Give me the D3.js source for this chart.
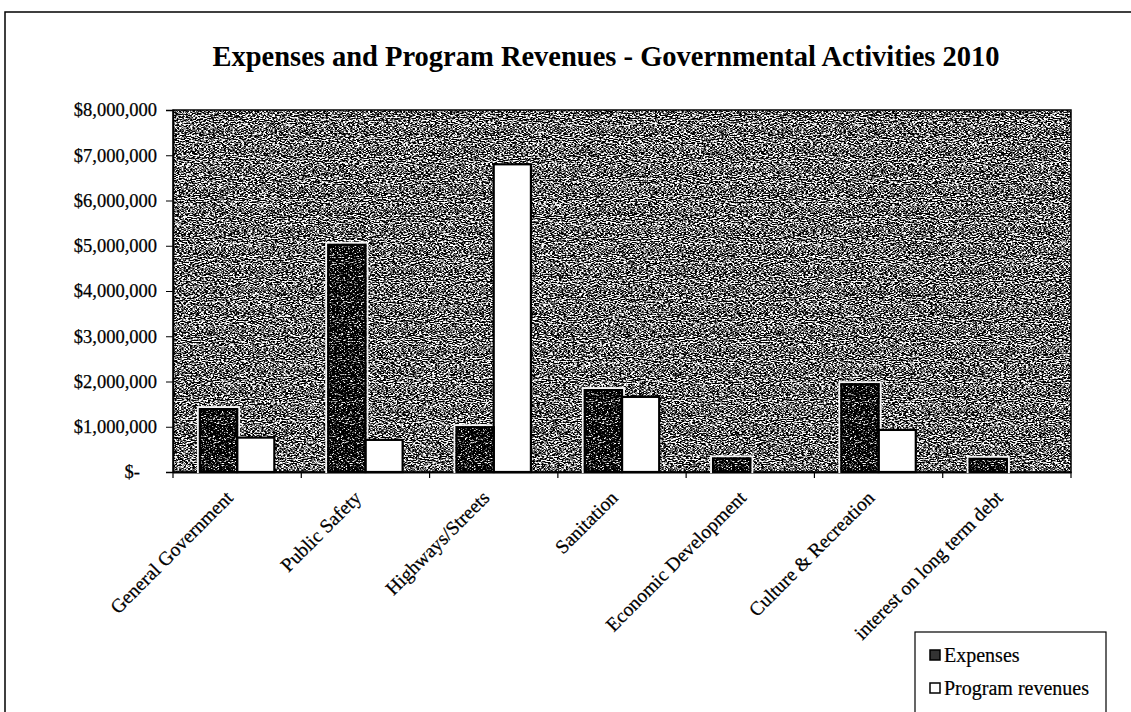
<!DOCTYPE html>
<html>
<head>
<meta charset="utf-8">
<title>Expenses and Program Revenues</title>
<script src="https://cdn.jsdelivr.net/npm/d3@7"></script>
<style>
    body { margin: 0; background: #fff; }
    text { font-family: "Liberation Serif", "Times New Roman", serif; fill: #000; }
    .chart-title { font-size: 28.5px; font-weight: bold; }
    .y-axis text { font-size: 18.5px; stroke: #000; stroke-width: 0.25px; }
    .x-axis text { font-size: 19.5px; stroke: #000; stroke-width: 0.25px; }
    .legend text { font-size: 20px; stroke: #000; stroke-width: 0.2px; }
</style>
</head>
<body>
<div id="chart-area"></div>
<script>

// Data
const categories = ["General Government", "Public Safety", "Highways/Streets", "Sanitation",
    "Economic Development", "Culture & Recreation", "interest on long term debt"];
const expenses = [1390000, 5020000, 990000, 1810000, 300000, 1940000, 290000];
const revenues = [760000, 710000, 6800000, 1660000, 0, 930000, 0];
const seriesNames = ["Expenses", "Program revenues"];
const yTickValues = [0, 1000000, 2000000, 3000000, 4000000, 5000000, 6000000, 7000000, 8000000];
const chartTitle = "Expenses and Program Revenues - Governmental Activities 2010";


class GroupedBarChart {

    constructor(parentElement, config) {
        this.parentElement = parentElement;
        this.config = config;
        this.initVis();
    }

    initVis() {
        let vis = this;

        vis.margin = {top: 110, right: 60, bottom: 240, left: 173};
        vis.width = 1131 - vis.margin.left - vis.margin.right;
        vis.height = 712 - vis.margin.top - vis.margin.bottom;

        vis.root = d3.select("#" + vis.parentElement)
            .append("svg")
            .attr("width", 1131)
            .attr("height", 712);

        // grainy scan texture (dithered grey of the printed chart)
        let defs = vis.root.append("defs");
        vis.addGrain(defs, "grain-bg", 5, -2.1);
        vis.addGrain(defs, "grain-dark", 5, -2.65);

        // outer chart frame (runs off the right and bottom of the page)
        vis.root.append("rect")
            .attr("x", 5).attr("y", 12)
            .attr("width", 1200).attr("height", 800)
            .attr("fill", "none")
            .attr("stroke", "#000")
            .attr("stroke-width", 1.5);

        vis.root.append("text")
            .attr("class", "chart-title")
            .attr("x", 606)
            .attr("y", 66)
            .attr("text-anchor", "middle")
            .text(vis.config.title);

        vis.svg = vis.root.append("g")
            .attr("transform", "translate(" + vis.margin.left + "," + vis.margin.top + ")");

        // plot area
        vis.svg.append("rect")
            .attr("width", vis.width)
            .attr("height", vis.height)
            .attr("fill", "#555")
            .attr("filter", "url(#grain-bg)");
        vis.svg.append("rect")
            .attr("width", vis.width)
            .attr("height", vis.height)
            .attr("fill", "none")
            .attr("stroke", "#000")
            .attr("stroke-width", 1.5);

        // scales
        vis.x0 = d3.scaleBand()
            .range([0, vis.width])
            .paddingInner(0.42)
            .paddingOuter(0.21);

        vis.x1 = d3.scaleBand()
            .padding(0);

        vis.y = d3.scaleLinear()
            .range([vis.height, 0]);

        vis.yAxis = d3.axisLeft(vis.y)
            .tickValues(yTickValues)
            .tickSize(7)
            .tickPadding(9)
            .tickFormat(d => d === 0 ? "$-" : d3.format("$,")(d));

        vis.xAxis = d3.axisBottom(vis.x0)
            .tickSize(0);

        vis.svg.append("g").attr("class", "y-axis axis");
        vis.svg.append("g").attr("class", "x-axis axis")
            .attr("transform", "translate(0," + vis.height + ")");

        vis.wrangleData();
    }

    addGrain(defs, id, k, offset) {
        let f = defs.append("filter")
            .attr("id", id)
            .attr("x", 0).attr("y", 0)
            .attr("width", 1).attr("height", 1)
            .attr("color-interpolation-filters", "sRGB");
        f.append("feTurbulence")
            .attr("type", "fractalNoise")
            .attr("baseFrequency", "0.45 0.95")
            .attr("numOctaves", 2)
            .attr("seed", 7)
            .attr("result", "noise");
        f.append("feColorMatrix")
            .attr("in", "noise")
            .attr("type", "matrix")
            .attr("values", [k, 0, 0, 0, offset, k, 0, 0, 0, offset, k, 0, 0, 0, offset, 0, 0, 0, 0, 1].join(" "))
            .attr("result", "gray");
        f.append("feComposite")
            .attr("in", "gray")
            .attr("in2", "SourceGraphic")
            .attr("operator", "in");
    }

    wrangleData() {
        let vis = this;

        vis.displayData = categories.map((c, i) => ({
            key: c,
            values: [
                {series: seriesNames[0], value: expenses[i]},
                {series: seriesNames[1], value: revenues[i]}
            ]
        }));

        vis.updateVis();
    }

    updateVis() {
        let vis = this;

        vis.x0.domain(categories);
        vis.x1.domain(seriesNames).range([0, vis.x0.bandwidth()]);
        vis.y.domain([0, 8000000]);

        let groups = vis.svg.selectAll(".cat")
            .data(vis.displayData)
            .enter().append("g")
            .attr("class", "cat")
            .attr("transform", d => "translate(" + vis.x0(d.key) + ",0)");

        let bars = groups.selectAll(".bar")
            .data(d => d.values.filter(v => v.value > 0))
            .enter();

        // white halo round the dark bars
        bars.filter(d => d.series === seriesNames[0]).append("rect")
            .attr("x", d => vis.x1(d.series) - 2)
            .attr("y", d => vis.y(d.value) - 2)
            .attr("width", vis.x1.bandwidth() + 4)
            .attr("height", d => vis.height - vis.y(d.value) + 2)
            .attr("fill", "none")
            .attr("stroke", "#f4f4f4")
            .attr("stroke-width", 2);

        bars.append("rect")
            .attr("class", "bar")
            .attr("x", d => vis.x1(d.series))
            .attr("y", d => vis.y(d.value))
            .attr("width", vis.x1.bandwidth())
            .attr("height", d => vis.height - vis.y(d.value))
            .attr("fill", d => d.series === seriesNames[0] ? "#222" : "#fff")
            .attr("filter", d => d.series === seriesNames[0] ? "url(#grain-dark)" : null);

        bars.append("rect")
            .attr("x", d => vis.x1(d.series))
            .attr("y", d => vis.y(d.value))
            .attr("width", vis.x1.bandwidth())
            .attr("height", d => vis.height - vis.y(d.value))
            .attr("fill", "none")
            .attr("stroke", "#000")
            .attr("stroke-width", 2.2);

        // axes
        vis.svg.select(".y-axis").call(vis.yAxis);
        vis.svg.select(".y-axis .domain").attr("stroke-width", 1.5);
        vis.svg.selectAll(".y-axis .tick text")
            .attr("dx", d => d === 0 ? -17 : 0);

        vis.svg.select(".x-axis").call(vis.xAxis);
        vis.svg.select(".x-axis .domain").attr("stroke-width", 2);
        vis.svg.selectAll(".x-axis .tick text")
            .attr("y", 0)
            .attr("dy", null)
            .attr("text-anchor", "end")
            .attr("transform", "translate(-3,27) rotate(-45)");

        // category boundary ticks
        let step = vis.x0.step();
        let edges = categories.map(c => vis.x0(c) - step * vis.x0.paddingInner() / 2)
            .concat([vis.x0(categories[categories.length - 1]) + vis.x0.bandwidth() + step * vis.x0.paddingInner() / 2]);
        vis.svg.select(".x-axis").selectAll(".edge-tick")
            .data(edges)
            .enter().append("line")
            .attr("class", "edge-tick")
            .attr("x1", d => d).attr("x2", d => d)
            .attr("y1", 0).attr("y2", 6)
            .attr("stroke", "#000")
            .attr("stroke-width", 1.2);

        // legend
        let legend = vis.root.append("g")
            .attr("class", "legend")
            .attr("transform", "translate(915,632)");
        legend.append("rect")
            .attr("width", 191).attr("height", 120)
            .attr("fill", "#fff")
            .attr("stroke", "#000")
            .attr("stroke-width", 1.2);

        let items = legend.selectAll(".item")
            .data(seriesNames)
            .enter().append("g")
            .attr("class", "item")
            .attr("transform", (d, i) => "translate(15," + (23 + i * 33) + ")");
        items.append("rect")
            .attr("x", 0).attr("y", -5)
            .attr("width", 10).attr("height", 10)
            .attr("fill", (d, i) => i === 0 ? "#333" : "#fff")
            .attr("stroke", "#000")
            .attr("stroke-width", 1.5);
        items.append("text")
            .attr("x", 14)
            .attr("dy", "0.35em")
            .text(d => d);
    }
}

new GroupedBarChart("chart-area", {title: chartTitle});

</script>
</body>
</html>
